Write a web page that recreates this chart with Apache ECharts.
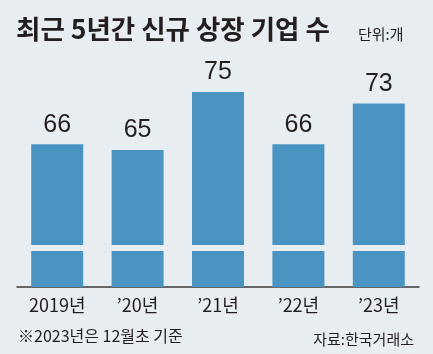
<!DOCTYPE html>
<html>
<head>
<meta charset="utf-8">
<script src="https://cdn.jsdelivr.net/npm/echarts@6/dist/echarts.min.js"></script>
<style>
    html, body { margin: 0; padding: 0; background: #e8edf1; }
    #chart { width: 433px; height: 354px; }
</style>
</head>
<body>
<div id="chart"></div>
<script>
// 연도별 신규 상장 기업 수
const years = ['2019년', '\u201920년', '\u201921년', '\u201922년', '\u201923년'];
const counts = [66, 65, 75, 66, 73];
// 축 생략 위치
const breakAt = [48.1];

const bg = '#e8edf1';
const font = '"Noto Sans CJK KR", "Liberation Sans", sans-serif';

const chart = echarts.init(document.getElementById('chart'));

const option = {
    backgroundColor: bg,
    animation: false,
    title: [
        {
            text: '최근 5년간 신규 상장 기업 수',
            left: 11, top: 11,
            textStyle: { fontFamily: font, fontSize: 26.5, fontWeight: 'bold', color: '#231f20' }
        },
        {
            text: '단위:개',
            left: 353, top: 22,
            textStyle: { fontFamily: font, fontSize: 15, fontWeight: 'normal', color: '#231f20' }
        },
        {
            text: '※2023년은 12월초 기준',
            left: 13, top: 323,
            textStyle: { fontFamily: font, fontSize: 16, fontWeight: 'normal', color: '#231f20' }
        },
        {
            text: '자료:한국거래소',
            right: 14, top: 327,
            textStyle: { fontFamily: font, fontSize: 15, fontWeight: 'normal', color: '#231f20' }
        }
    ],
    grid: { left: 17, right: 14, top: 63, bottom: 67 },
    xAxis: {
        type: 'category',
        data: years,
        axisTick: { show: false },
        axisLine: { lineStyle: { color: '#3a3a3a', width: 1.5 } },
        axisLabel: { margin: 9, fontFamily: font, fontSize: 18, color: '#231f20' }
    },
    yAxis: {
        type: 'value',
        min: 41.4,
        max: 80,
        show: false,
        splitLine: { show: false }
    },
    series: [
        {
            type: 'bar',
            data: counts,
            barWidth: 52,
            itemStyle: { color: '#4a94c4' },
            label: {
                show: true,
                position: 'top',
                distance: 7,
                fontFamily: '"Liberation Sans", sans-serif',
                fontSize: 25,
                color: '#231f20'
            },
            markLine: {
                silent: true,
                symbol: 'none',
                label: { show: false },
                lineStyle: { color: bg, width: 6, type: 'solid' },
                data: breakAt.map(v => ({ yAxis: v }))
            }
        }
    ]
};

chart.setOption(option);
</script>
</body>
</html>
